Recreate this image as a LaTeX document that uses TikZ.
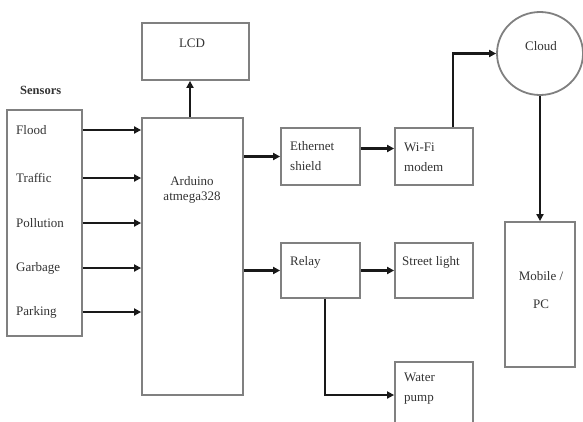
\documentclass[tikz,border=0pt]{standalone}
\usepackage{fontspec}
\setmainfont{Liberation Serif}
\usetikzlibrary{arrows.meta,shapes.geometric,fit}
\begin{document}
\begin{tikzpicture}[x=1pt,y=-1pt,
  box/.style={draw=black!50,line width=1.8pt,inner sep=0pt,rectangle},
  txt/.style={font=\fontsize{13}{15}\selectfont,inner sep=0pt,text=black!80},
  arr/.style={draw=black!90,line width=2.4pt,-{Triangle[length=7pt,width=7pt]}}]
\clip (0,0) rectangle (583,421);
\fill[white] (0,0) rectangle (583,421);
% boxes
\node[box,fit={(7,110)(82,336)}] (sensors) {};
\node[box,fit={(142,118)(243,395)}] (ard) {};
\node[box,fit={(142,23)(249,80)}] (lcd) {};
\node[box,fit={(281,128)(360,185)}] (eth) {};
\node[box,fit={(395,128)(473,185)}] (wifi) {};
\node[box,fit={(281,243)(360,298)}] (relay) {};
\node[box,fit={(395,243)(473,298)}] (street) {};
\node[box,fit={(395,362)(473,428)}] (water) {};
\node[box,fit={(505,222)(575,367)}] (mobile) {};
\node[draw=black!50,line width=1.8pt,ellipse,minimum width=86pt,minimum height=83pt,inner sep=0pt] (cloud) at (540,53.5) {};
% texts
\node[txt,anchor=west] (senshdr) at (20,90) {\bfseries\fontsize{12.5}{14}\selectfont Sensors};
\node[txt,anchor=west] (flood) at (16,130) {Flood};
\node[txt,anchor=west] (traffic) at (16,178) {Traffic};
\node[txt,anchor=west] (poll) at (16,223) {Pollution};
\node[txt,anchor=west] (garb) at (16,268) {Garbage};
\node[txt,anchor=west] (park) at (16,312) {Parking};
\node[txt] (lcdT) at (192,43) {LCD};
\node[txt,align=center] (ardT) at (192,190) {Arduino\\atmega328};
\node[txt,align=left,anchor=north west] (ethT) at (290,141) {Ethernet\\[5pt]shield};
\node[txt,align=left,anchor=north west] (wifiT) at (404,143) {Wi-Fi\\[5pt]modem};
\node[txt,anchor=west] (relayT) at (290,262) {Relay};
\node[txt,anchor=west] (streetT) at (402,262) {Street light};
\node[txt,align=left,anchor=north west] (waterT) at (404,373) {Water\\[5pt]pump};
\node[txt] (cloudT) at (541,46) {Cloud};
\node[txt,align=center] (mobileT) at (541,290) {Mobile /\\[13pt]PC};
% connectors
\foreach \s in {flood,traffic,poll,garb,park}
  \draw[arr] (sensors.east |- \s) -- (ard.west |- \s);
\draw[arr] ([xshift=-2.5pt]ard.north) -- ([xshift=-2.5pt]ard.north |- lcd.south);
\draw[arr] (ard.east |- eth.west) -- (eth.west);
\draw[arr] ([yshift=8pt]eth.east) -- ([yshift=8pt]wifi.west);
\draw[arr] ([xshift=19pt]wifi.north) |- (cloud.west);
\draw[arr] (cloud.south) -- (mobile.north);
\draw[arr] (ard.east |- relay.west) -- (relay.west);
\draw[arr] (relay.east) -- (street.west);
\draw[arr] ([xshift=4.5pt]relay.south) |- (water.west);
\end{tikzpicture}
\end{document}
